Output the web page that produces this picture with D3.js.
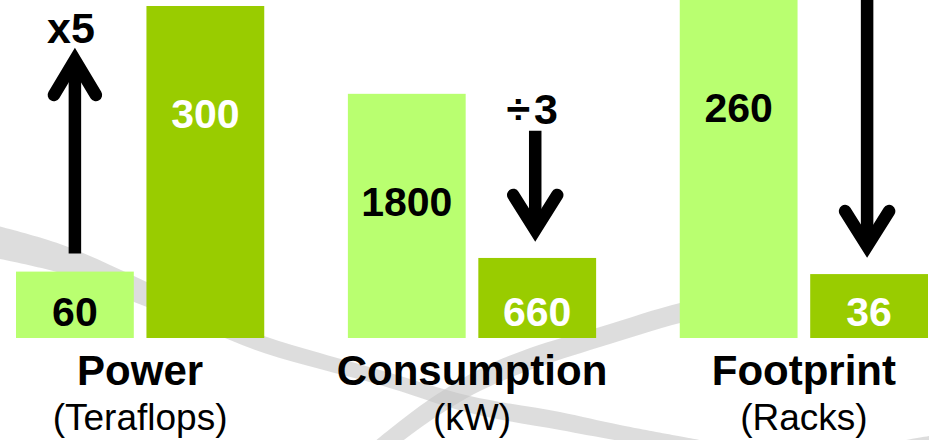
<!DOCTYPE html>
<html>
<head>
<meta charset="utf-8">
<script src="https://cdn.jsdelivr.net/npm/d3@7"></script>
<style>
  html, body { margin: 0; padding: 0; background: #fff; overflow: hidden; }
  svg { display: block; font-family: "Liberation Sans", Arial, Helvetica, sans-serif; }
</style>
</head>
<body>
<svg id="chart" width="929" height="440"></svg>
<script>
// ---- data ----
const categories   = ["Power", "Consumption", "Footprint"];
const units        = ["(Teraflops)", "(kW)", "(Racks)"];
const seriesNames  = ["before", "after"];
const beforeValues = [60, 1800, 260];
const afterValues  = [300, 660, 36];
const changeLabels = ["x5", "÷3", null];
const changeDirs   = ["up", "down", "down"];
// per-group value axis extents (each group drawn on its own scale)
const axisMin = [0, 104, 0];
const axisMax = [300, 2410, 187];

// ---- layout ----
const W = 929, H = 440;
const baseY = 338, topY = 6;
const colors = { before: "#b9ff70", after: "#99cc00" };
const textColors = { before: "#000", after: "#fff" };

const svg = d3.select("#chart");

// background swooshes (decoration)
const bg = svg.append("g");
const area = d3.area().x(d => d[0]).y0(d => d[1]).y1(d => d[2]).curve(d3.curveCatmullRom);
const swooshes = [
  [[-10,224,257],[60,244,273],[134,276,302],[200,308,328],[264,336,353],[320,353,369],[380,370,385],[470,396,413],[560,412,430],[620,425,441],[700,440,455]],
  [[350,462,486],[390,429,451],[430,399,421],[480,369,391],[530,348,370],[600,327,347],[680,303,323],[720,296,314]],
  [[850,452,470],[890,443,458],[935,435,450]]
];
swooshes.forEach(s => {
  bg.append("path").attr("d", area(s)).attr("fill", "#c4c4c4").attr("opacity", 0.58);
});

const x0 = d3.scaleBand().domain(categories).range([16, 928]).paddingInner(0.252).paddingOuter(0);
const x1 = d3.scaleBand().domain(seriesNames).range([0, x0.bandwidth()]).paddingInner(0.097).paddingOuter(0);
const yScales = categories.map((c, i) =>
  d3.scaleLinear().domain([axisMin[i], axisMax[i]]).range([baseY, topY]));

const rows = categories.map((c, i) => ({
  cat: c, unit: units[i], i,
  bars: [
    { key: "before", value: beforeValues[i] },
    { key: "after", value: afterValues[i] }
  ]
}));

const groups = svg.append("g").selectAll("g").data(rows).join("g")
  .attr("transform", d => `translate(${x0(d.cat)},0)`);

groups.each(function(row) {
  const g = d3.select(this);
  const y = yScales[row.i];
  row.bars.forEach(b => {
    const top = Math.max(0, y(b.value));
    g.append("rect")
      .attr("x", x1(b.key))
      .attr("y", top)
      .attr("width", x1.bandwidth())
      .attr("height", baseY - top)
      .attr("fill", colors[b.key]);
    const tall = baseY - top > 150;
    g.append("text")
      .attr("x", x1(b.key) + x1.bandwidth() / 2)
      .attr("y", tall ? top + 122 : baseY - 12)
      .attr("text-anchor", "middle")
      .attr("font-size", 41)
      .attr("font-weight", "bold")
      .attr("fill", textColors[b.key])
      .text(b.value);
  });

  // arrows
  const dir = changeDirs[row.i];
  const yb = y(beforeValues[row.i]);
  const ya = y(afterValues[row.i]);
  const arrow = g.append("g").attr("fill", "none").attr("stroke", "#000").attr("stroke-width", 12.5);
  if (dir === "up") {
    const cx = x1("before") + x1.bandwidth() / 2;
    const tail = yb - 18;
    const tip = ya + 43;
    const vtx = tip + 11;
    arrow.append("line").attr("x1", cx).attr("x2", cx).attr("y1", tail).attr("y2", vtx + 4);
    arrow.append("path")
      .attr("d", `M${cx - 21},${vtx + 35} L${cx},${vtx} L${cx + 21},${vtx + 35}`)
      .attr("stroke-linecap", "round").attr("stroke-linejoin", "miter").attr("stroke-miterlimit", 10);
    if (changeLabels[row.i]) {
      g.append("text").attr("x", cx - 4).attr("y", tip - 6)
        .attr("text-anchor", "middle").attr("font-size", 43).attr("font-weight", "bold")
        .attr("fill", "#000").text(changeLabels[row.i]);
    }
  } else {
    const cx = x1("after") + x1.bandwidth() / 2 - 2;
    const tail = yb + 37;
    const tip = ya - 17;
    const vtx = tip - 11;
    arrow.append("line").attr("x1", cx).attr("x2", cx).attr("y1", tail).attr("y2", vtx - 4);
    arrow.append("path")
      .attr("d", `M${cx - 22},${vtx - 35} L${cx},${vtx} L${cx + 22},${vtx - 35}`)
      .attr("stroke-linecap", "round").attr("stroke-linejoin", "miter").attr("stroke-miterlimit", 10);
    if (changeLabels[row.i]) {
      g.append("text").attr("x", cx - 1).attr("y", tail - 7)
        .attr("text-anchor", "middle").attr("font-size", 43).attr("font-weight", "bold")
        .attr("letter-spacing", 4)
        .attr("fill", "#000").text(changeLabels[row.i]);
    }
  }
});

// category titles
groups.append("text")
  .attr("x", x0.bandwidth() / 2)
  .attr("y", 385)
  .attr("text-anchor", "middle")
  .attr("font-size", 42)
  .attr("font-weight", "bold")
  .attr("fill", "#000")
  .text(d => d.cat);

groups.append("text")
  .attr("x", x0.bandwidth() / 2)
  .attr("y", 430)
  .attr("text-anchor", "middle")
  .attr("font-size", 37)
  .attr("fill", "#000")
  .text(d => d.unit);
</script>
</body>
</html>
